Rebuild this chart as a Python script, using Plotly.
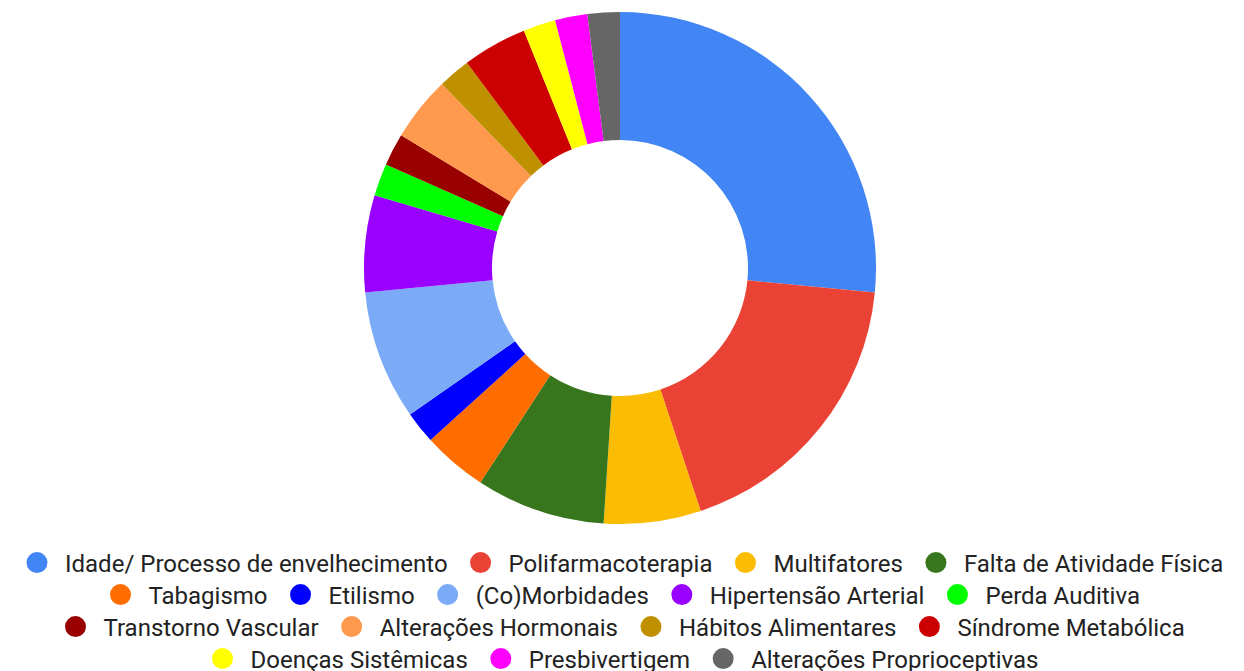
import plotly.graph_objects as go

labels = [
    "Idade/ Processo de envelhecimento", "Polifarmacoterapia", "Multifatores",
    "Falta de Atividade Física", "Tabagismo", "Etilismo", "(Co)Morbidades",
    "Hipertensão Arterial", "Perda Auditiva", "Transtorno Vascular",
    "Alterações Hormonais", "Hábitos Alimentares", "Síndrome Metabólica",
    "Doenças Sistêmicas", "Presbivertigem", "Alterações Proprioceptivas",
]
values = [13, 9, 3, 4, 2, 1, 4, 3, 1, 1, 2, 1, 2, 1, 1, 1]
colors = [
    "#4285F4", "#EA4335", "#FBBC04", "#38761D", "#FF6D01", "#0000FF",
    "#7BAAF7", "#9900FF", "#00FF00", "#990000", "#FF994D", "#BF9000",
    "#CC0000", "#FFFF00", "#FF00FF", "#666666",
]
# legend rows (index ranges into labels)
legend_rows = [[0, 1, 2, 3], [4, 5, 6, 7, 8], [9, 10, 11, 12], [13, 14, 15]]

W, H = 1244, 671
OFF = 8  # page body margin
FONT = "Roboto, Arial, sans-serif"

cx, cy, R = 620 - OFF, 268 - OFF, 256

fig = go.Figure()
fig.add_trace(go.Pie(
    labels=labels, values=values, sort=False, direction="clockwise",
    rotation=0, hole=0.5, textinfo="none", showlegend=False,
    marker=dict(colors=colors, line=dict(width=0)),
    domain=dict(x=[(cx - R) / W, (cx + R) / W],
                y=[(H - cy - R) / H, (H - cy + R) / H]),
))

row_centers = [563, 595, 627, 659]
legend_names = ["legend", "legend2", "legend3", "legend4"]
for r, idxs in enumerate(legend_rows):
    for i in idxs:
        fig.add_trace(go.Scatter(
            x=[None], y=[None], mode="markers", name=labels[i],
            marker=dict(color=colors[i], size=16, symbol="circle",
                        line=dict(color=colors[i], width=5)),
            legend=legend_names[r], hoverinfo="skip",
        ))

legend_common = dict(orientation="h", xanchor="center", x=(619 - OFF) / W,
                     yanchor="middle", font=dict(family=FONT, size=24, color="#222222"),
                     bgcolor="rgba(0,0,0,0)", itemwidth=46, itemclick=False,
                     itemdoubleclick=False)
layout_legends = {}
for r, name in enumerate(legend_names):
    layout_legends[name] = dict(legend_common, y=1 - (row_centers[r] - OFF) / H)

fig.update_layout(
    width=W, height=H, margin=dict(l=0, r=0, t=0, b=0, autoexpand=False),
    paper_bgcolor="white", plot_bgcolor="white",
    xaxis=dict(visible=False), yaxis=dict(visible=False),
    **layout_legends,
)
fig.write_html("out.html")
